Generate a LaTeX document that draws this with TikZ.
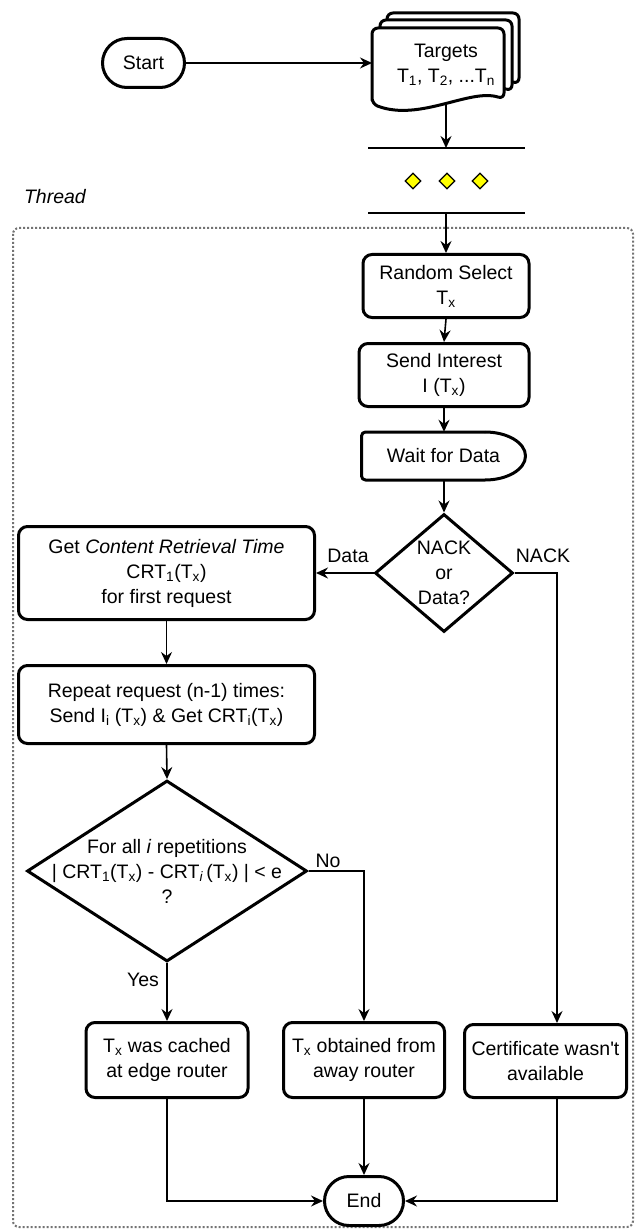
\documentclass[tikz,border=0pt]{standalone}
\usepackage{fontspec}
\newfontfamily\diagfont{Liberation Sans}
\usetikzlibrary{shapes.geometric,shapes.misc,arrows.meta,calc}
\newcommand\lo[1]{\textsubscript{#1}}
\newcommand\dfont{\diagfont\fontsize{19.5}{25}\selectfont}

\begin{document}
\begin{tikzpicture}[x=1pt,y=-1pt,
  every node/.style={font=\dfont, align=center, inner sep=0pt},
  box/.style={draw, rectangle, line width=3pt, rounded corners=9pt},
  term/.style={draw, rounded rectangle, line width=3pt},
  dec/.style={draw, diamond, line width=3pt},
  forkdot/.style={draw, diamond, line width=1.2pt, fill={rgb,255:red,255;green,255;blue,0},
               minimum width=16pt, minimum height=16pt},
  shapeline/.style={line width=3pt, line join=round},
  wire/.style={line width=1.6pt},
  conn/.style={wire, -{Stealth[length=12pt,width=11pt,inset=4pt]}},
  lbl/.style={font=\dfont},
  frame/.style={draw=black!55, line width=2pt, dash pattern=on 2pt off 2pt, rounded corners=6pt}
]
\useasboundingbox (0,0) rectangle (636,1230);

% thread frame
\draw[frame] (13,228) rectangle (633,1227);
\node[anchor=east, font=\dfont\itshape] (thread) at (86,197) {Thread};

% start terminal
\node[term, minimum width=82pt, minimum height=49pt] (start) at (143.5,63) {Start};

% stacked documents holding the targets
\foreach \d in {15,8,0}{
  \draw[shapeline, fill=white, rounded corners=6pt, shift={(\d,-\d)}]
    (372,104) -- (372,28) -- (504,28) -- (504,99)
    .. controls (470,88) and (420,122) .. cycle;
}
\node (targets) at (446,65) {Targets\\T\lo{1}, T\lo{2}, ...T\lo{n}};
\coordinate (docW) at (372,63);
\coordinate (docS) at (446,103);

% fork bars with the parallel markers
\coordinate (barA) at (446,148);
\coordinate (barB) at (446,213);
\draw[wire] (368,148) -- (525,148);
\draw[wire] (368,213) -- (525,213);
\node[forkdot] (m1) at (413,181) {};
\node[forkdot] (m2) at (447,181) {};
\node[forkdot] (m3) at (480,181) {};

% thread body
\node[box, minimum width=166pt, minimum height=63pt] (random) at (446,286) {Random Select\\T\lo{x}};
\node[box, minimum width=170pt, minimum height=63pt] (send) at (444,375) {Send Interest\\I (T\lo{x})};

% delay shape
\node[minimum width=164pt, minimum height=48pt] (wait) at (443.5,456) {Wait for Data};
\draw[shapeline, rounded corners=4pt] (485,480) -- (361.5,480) -- (361.5,432) -- (485,432);
\draw[shapeline] (485,432) .. controls (507.4,432) and (525.5,442.7) .. (525.5,456)
  .. controls (525.5,469.3) and (507.4,480) .. (485,480);

\node[dec, minimum width=138pt, minimum height=116pt] (ask) at (444,573) {NACK\\or\\Data?};

\node[box, minimum width=296pt, minimum height=93pt] (get) at (166.5,573)
  {Get \textit{Content Retrieval Time}\\CRT\lo{1}(T\lo{x})\\for first request};
\node[box, minimum width=296pt, minimum height=78pt] (rep) at (166.5,704.5)
  {Repeat request (n-1) times:\\Send I\lo{i} (T\lo{x}) \& Get CRT\lo{i}(T\lo{x})};

\node[dec, minimum width=280pt, minimum height=181pt,
  label={[align=center, font=\dfont]center:For all \textit{i} repetitions\\| CRT\lo{1}(T\lo{x}) - CRT\lo{\itshape i}\,(T\lo{x}) | {<} e\\?}]
  (cmp) at (167,871) {};

\node[box, minimum width=162pt, minimum height=75pt] (cached) at (167,1060)
  {T\lo{x} was cached\\at edge router};
\node[box, minimum width=161pt, minimum height=75pt] (away) at (364,1060)
  {T\lo{x} obtained from\\away router};
\node[box, minimum width=162pt, minimum height=73pt] (cert) at (545.5,1061)
  {Certificate wasn't\\available};

\node[term, minimum width=79pt, minimum height=49pt] (end) at (364,1201) {End};

% connectors
\draw[conn] (start.east) -- (docW);
\draw[conn] (docS) -- (barA);
\draw[conn] (barB) -- (random.north);
\draw[conn] (random.south) -- (send.north);
\draw[conn] (send.south) -- (send.south |- wait.north);
\draw[conn] (send.south |- wait.south) -- (ask.north);
\draw[conn] (ask.west) -- (get.east);
\draw[conn] (ask.east) -| ([xshift=11.5pt]cert.north);
\draw[conn] (get.south) -- (rep.north);
\draw[conn] (rep.south) -- (cmp.north);
\draw[conn] (cmp.south) -- (cached.north);
\draw[conn] (cmp.east) -| (away.north);
\draw[conn] (away.south) -- (end.north);
\draw[conn] (cached.south) |- (end.west);
\draw[conn] ([xshift=11.5pt]cert.south) |- (end.east);

% branch labels
\node[lbl] (ldata) at (348,556) {Data};
\node[lbl] (lnack) at (543,556) {NACK};
\node[lbl] (lno) at (328,861) {No};
\node[lbl] (lyes) at (143,980) {Yes};
\end{tikzpicture}
\end{document}
